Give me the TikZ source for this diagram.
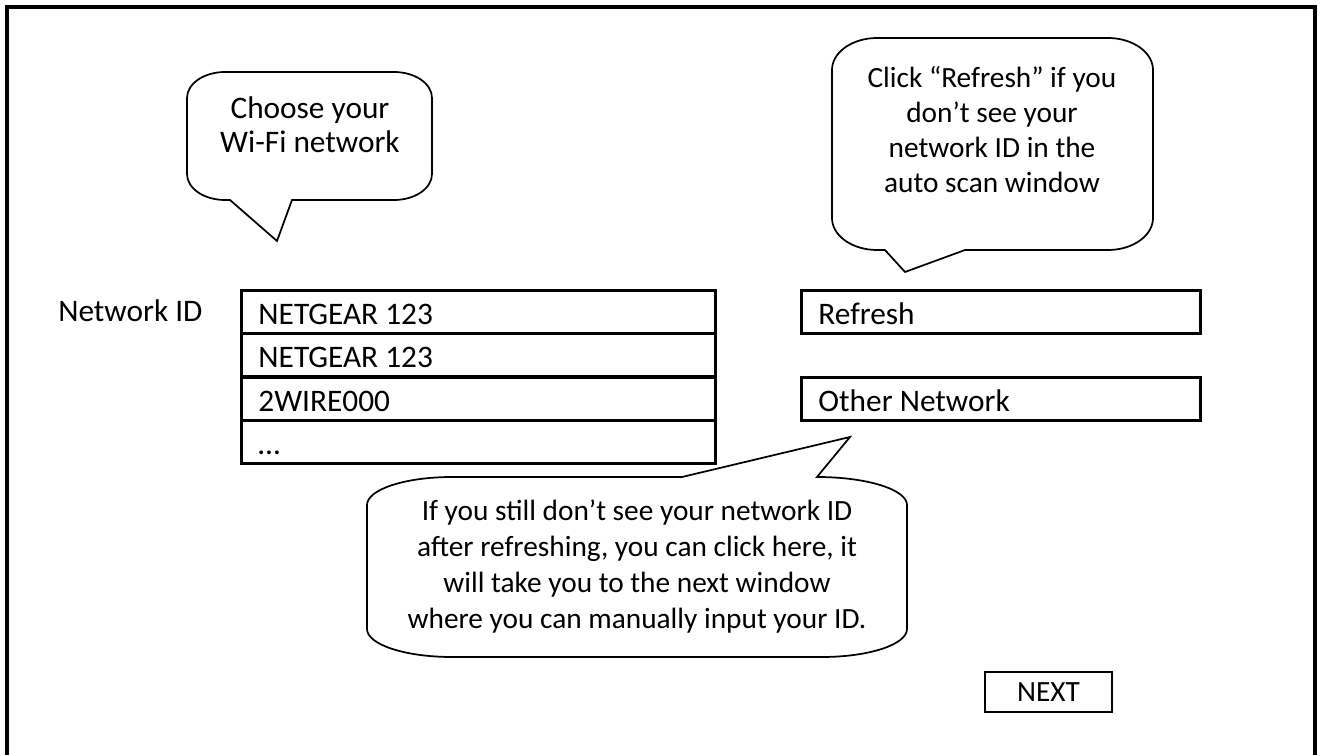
\documentclass[tikz,border=0pt]{standalone}
\usepackage{fontspec}
\setmainfont{Carlito}
\begin{document}
\begin{tikzpicture}[x=0.75pt,y=-0.75pt,
  every node/.style={font=\fontsize{22}{27}\selectfont, inner sep=0pt},
  bigtext/.style={font=\fontsize{23.5}{25.5}\selectfont},
  frame/.style={line width=2.6pt},
  field/.style={draw, line width=2.2pt, anchor=north west, inner xsep=12.75pt, inner ysep=0pt,
                text height=25.5pt, text depth=6.75pt, align=flush left, bigtext},
  rowbox/.style={field, text width=330pt},
  sidebox/.style={field, text width=273.75pt},
  callout/.style={draw, line width=1.3pt, line join=miter},
  say/.style={align=flush center}]
\useasboundingbox (0,0) rectangle (1322,755);
\draw[frame] (7,7) rectangle (1315,775);

% label
\node[anchor=base west, bigtext] (netid) at (58,322) {Network ID};

% list of networks
\node[rowbox] (n1) at (240,289) {NETGEAR 123};
\node[rowbox] (n2) at (240,332.5) {NETGEAR 123};
\node[rowbox] (n3) at (240,376) {2WIRE000};
\node[rowbox] (n4) at (240,419.5) {…};

% side buttons
\node[sidebox] (refresh) at (800,289) {Refresh};
\node[sidebox] (other) at (800,376) {Other Network};
\node[draw, line width=2.2pt, minimum width=95.25pt, minimum height=30pt] (next) at (1048.5,692) {NEXT};

% callout 1
\draw[callout] (187,98) .. controls (187,83.6) and (204,72) .. (225,72) -- (394,72)
  .. controls (415,72) and (432,83.6) .. (432,98) -- (432,174)
  .. controls (432,188.4) and (415,200) .. (394,200) -- (292,200) -- (277,241) -- (230,200) -- (225,200)
  .. controls (204,200) and (187,188.4) .. (187,174) -- cycle;
\node[say, bigtext] (c1) at (310,125) {Choose your\\Wi-Fi network};

% callout 2
\draw[callout] (832,70) .. controls (832,52.3) and (852.2,38) .. (877,38) -- (1108,38)
  .. controls (1132.8,38) and (1153,52.3) .. (1153,70) -- (1153,218)
  .. controls (1153,235.7) and (1132.8,250) .. (1108,250) -- (965,250) -- (905,272) -- (885,250) -- (877,250)
  .. controls (852.2,250) and (832,235.7) .. (832,218) -- cycle;
\node[say, font=\fontsize{22}{26.25}\selectfont] (c2) at (992,129.5) {Click “Refresh” if you\\don’t see your\\network ID in the\\auto scan window};

% callout 3
\draw[callout] (367,505) .. controls (367,489.5) and (405,477) .. (452,477) -- (682,477) -- (850,437) -- (817,477)
  .. controls (866.7,477) and (907,489.5) .. (907,505) -- (907,629)
  .. controls (907,644.5) and (869,657) .. (822,657) -- (452,657)
  .. controls (405,657) and (367,644.5) .. (367,629) -- cycle;
\node[say] (c3) at (637,567) {If you still don’t see your network ID\\after refreshing, you can click here, it\\will take you to the next window\\where you can manually input your ID.};
\end{tikzpicture}
\end{document}
